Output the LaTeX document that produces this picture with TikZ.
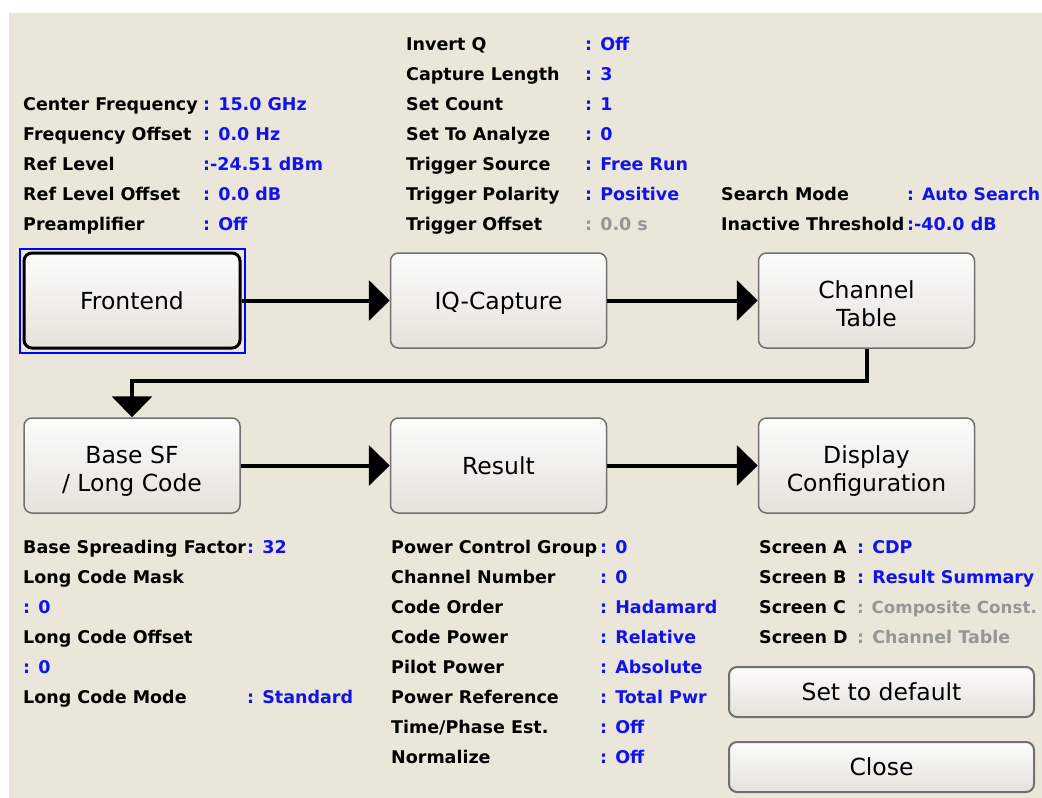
\documentclass[tikz,border=0pt]{standalone}
\usepackage{fontspec}
\setmainfont{DejaVu Sans}
\usetikzlibrary{arrows.meta}
\definecolor{bg}{RGB}{234,231,218}
\definecolor{val}{RGB}{18,18,235}
\definecolor{dim}{RGB}{150,150,150}
\definecolor{frame}{RGB}{112,112,112}
\definecolor{btop}{RGB}{252,252,250}
\definecolor{bbot}{RGB}{228,226,218}
\definecolor{selblue}{RGB}{0,0,255}
\tikzset{
 lbl/.style={anchor=base west, inner sep=0, font=\fontsize{17.5}{20}\selectfont\bfseries, text=black},
 vl/.style={lbl, text=val},
 gv/.style={lbl, text=dim},
 box/.style={draw=frame, line width=1.5, rounded corners=8, top color=btop, bottom color=bbot, minimum width=216, minimum height=95, inner sep=0},
 boxtxt/.style={anchor=base, inner sep=0, font=\fontsize{23.5}{28}\selectfont},
 btn/.style={draw=frame, line width=2, rounded corners=8, top color=btop, bottom color=bbot, minimum width=305, minimum height=50, inner sep=0},
 arr/.style={line width=4, -{Triangle[length=21pt,width=40pt]}},
}
\begin{document}
\begin{tikzpicture}[x=1pt,y=-1pt]
\useasboundingbox (0,0) rectangle (1042,798);
\fill[white] (0,0) rectangle (1042,798);
\fill[bg] (9,13) rectangle (1042,798);

% top-left parameters
\node[lbl] (cf)  at (23,110) {Center Frequency};
\node[vl]  (cfv) at (203,110) {: 15.0 GHz};
\node[lbl] (fo)  at (23,140) {Frequency Offset};
\node[vl]  (fov) at (203,140) {: 0.0 Hz};
\node[lbl] (rl)  at (23,170) {Ref Level};
\node[vl]  (rlv) at (203,170) {:-24.51 dBm};
\node[lbl] (ro)  at (23,200) {Ref Level Offset};
\node[vl]  (rov) at (203,200) {: 0.0 dB};
\node[lbl] (pa)  at (23,230) {Preamplifier};
\node[vl]  (pav) at (203,230) {: Off};

% top-middle parameters
\node[lbl] (iqn)  at (406,50) {Invert Q};
\node[vl]  (iqnv) at (585,50) {: Off};
\node[lbl] (cl)   at (406,80) {Capture Length};
\node[vl]  (clv)  at (585,80) {: 3};
\node[lbl] (sc)   at (406,110) {Set Count};
\node[vl]  (scv)  at (585,110) {: 1};
\node[lbl] (sa)   at (406,140) {Set To Analyze};
\node[vl]  (sav)  at (585,140) {: 0};
\node[lbl] (ts)   at (406,170) {Trigger Source};
\node[vl]  (tsv)  at (585,170) {: Free Run};
\node[lbl] (tp)   at (406,200) {Trigger Polarity};
\node[vl]  (tpv)  at (585,200) {: Positive};
\node[lbl] (to)   at (406,230) {Trigger Offset};
\node[gv]  (tov)  at (585,230) {: 0.0 s};

% top-right parameters
\node[lbl] (sm)  at (721,200) {Search Mode};
\node[vl, font=\fontsize{17.2}{20}\selectfont\bfseries]  (smv) at (907,200) {: Auto Search};
\node[lbl] (it)  at (721,230) {Inactive Threshold};
\node[vl]  (itv) at (907,230) {:-40.0 dB};

% boxes
\node[box, draw=black, line width=3] (fe) at (132,300.5) {};
\draw[selblue, line width=2] ([shift={(-3,-3)}]fe.north west) rectangle ([shift={(3,3)}]fe.south east);
\node[box] (iq) at (498.5,300.5) {};
\node[box] (ct) at (866.5,300.5) {};
\node[box] (bs) at (132,465.5) {};
\node[box] (rs) at (498.5,465.5) {};
\node[box] (dc) at (866.5,465.5) {};

\node[boxtxt] (fet) at (132,309) {Frontend};
\node[boxtxt] (iqt) at (498.5,309) {IQ-Capture};
\node[boxtxt] (ct1) at (866.5,298) {Channel};
\node[boxtxt] (ct2) at (866.5,326) {Table};
\node[boxtxt] (bs1) at (132,463) {Base SF};
\node[boxtxt] (bs2) at (132,491) {/ Long Code};
\node[boxtxt] (rst) at (498.5,474) {Result};
\node[boxtxt] (dc1) at (866.5,463) {Display};
\node[boxtxt] (dc2) at (866.5,491) {Configuration};

% connectors
\draw[arr] (fe.east) -- (iq.west);
\draw[arr] (iq.east) -- (ct.west);
\draw[arr] (ct.south) -- ++(0,32) -| (bs.north);
\draw[arr] (bs.east) -- (rs.west);
\draw[arr] (rs.east) -- (dc.west);

% bottom-left parameters
\node[lbl] (bsf)  at (23,553) {Base Spreading Factor};
\node[vl]  (bsfv) at (247,553) {: 32};
\node[lbl] (lcm)  at (23,583) {Long Code Mask};
\node[vl]  (lcmv) at (23,613) {: 0};
\node[lbl] (lco)  at (23,643) {Long Code Offset};
\node[vl]  (lcov) at (23,673) {: 0};
\node[lbl] (lcd)  at (23,703) {Long Code Mode};
\node[vl]  (lcdv) at (247,703) {: Standard};

% bottom-middle parameters
\node[lbl] (pcg)  at (391,553) {Power Control Group};
\node[vl]  (pcgv) at (600,553) {: 0};
\node[lbl] (cn)   at (391,583) {Channel Number};
\node[vl]  (cnv)  at (600,583) {: 0};
\node[lbl] (co)   at (391,613) {Code Order};
\node[vl]  (cov)  at (600,613) {: Hadamard};
\node[lbl] (cp)   at (391,643) {Code Power};
\node[vl]  (cpv)  at (600,643) {: Relative};
\node[lbl] (pp)   at (391,673) {Pilot Power};
\node[vl]  (ppv)  at (600,673) {: Absolute};
\node[lbl] (pr)   at (391,703) {Power Reference};
\node[vl]  (prv)  at (600,703) {: Total Pwr};
\node[lbl] (tpe)  at (391,733) {Time/Phase Est.};
\node[vl]  (tpev) at (600,733) {: Off};
\node[lbl] (nm)   at (391,763) {Normalize};
\node[vl]  (nmv)  at (600,763) {: Off};

% bottom-right parameters
\node[lbl] (sca)  at (759,553) {Screen A};
\node[vl]  (scav) at (857,553) {: CDP};
\node[lbl] (scb)  at (759,583) {Screen B};
\node[vl]  (scbv) at (857,583) {: Result Summary};
\node[lbl] (scc)  at (759,613) {Screen C};
\node[gv, font=\fontsize{16.7}{20}\selectfont\bfseries]  (sccv) at (857,613) {: Composite Const.};
\node[lbl] (scd)  at (759,643) {Screen D};
\node[gv]  (scdv) at (857,643) {: Channel Table};

% buttons
\node[btn] (def) at (881.5,692) {};
\node[boxtxt] (deft) at (881.5,700.5) {Set to default};
\node[btn] (cls) at (881.5,767) {};
\node[boxtxt] (clst) at (881.5,775.5) {Close};
\end{tikzpicture}
\end{document}
